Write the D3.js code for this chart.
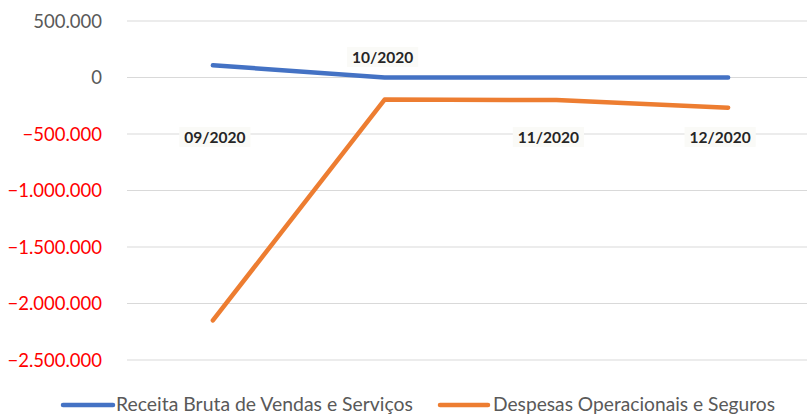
<!DOCTYPE html>
<html>
<head>
<meta charset="utf-8">
<script src="https://cdn.jsdelivr.net/npm/d3@7"></script>
<style>
  html, body { margin: 0; padding: 0; background: #fff; }
  svg { display: block; }
  text { font-family: Lato, "Open Sans", sans-serif; }
</style>
</head>
<body>
<svg id="chart" width="807" height="415"></svg>
<script>
// Monthly results (R$)
const categories = ["09/2020", "10/2020", "11/2020", "12/2020"];
const receita = [108000, 0, 0, 0];
const despesas = [-2150000, -195000, -200000, -267000];
const yTicks = [500000, 0, -500000, -1000000, -1500000, -2000000, -2500000];
const seriesNames = ["Receita Bruta de Vendas e Serviços", "Despesas Operacionais e Seguros"];

const series = [
  { name: seriesNames[0], values: receita, color: "#4472C4" },
  { name: seriesNames[1], values: despesas, color: "#ED7D31" }
];

const svg = d3.select("#chart");
const plot = { left: 127, right: 814, top: 21, bottom: 360 };

const x = d3.scaleBand().domain(categories).range([plot.left, plot.right]);
const cx = c => x(c) + x.bandwidth() / 2;
const y = d3.scaleLinear().domain([-2500000, 500000]).range([plot.bottom, plot.top]);

// pt-BR number format: dot as thousands separator
const fmt = d3.formatLocale({ decimal: ",", thousands: ".", grouping: [3], currency: ["R$", ""] }).format(",d");

// Gridlines
svg.append("g")
  .selectAll("line")
  .data(yTicks)
  .join("line")
  .attr("x1", plot.left).attr("x2", 807)
  .attr("y1", d => y(d)).attr("y2", d => y(d))
  .attr("stroke", "#d9d9d9").attr("stroke-width", 1);

// Y axis labels (negatives in red)
const yAxis = d3.axisLeft(y).tickValues(yTicks).tickFormat(d => fmt(d)).tickSize(0).tickPadding(0);
const yg = svg.append("g").attr("transform", "translate(102,0)").call(yAxis);
yg.select(".domain").remove();
yg.selectAll("text")
  .attr("font-family", "Lato, 'Open Sans', sans-serif")
  .attr("font-size", "18.5px")
  .attr("fill", d => d < 0 ? "#FF0000" : "#595959")
  .attr("dy", "0.35em");

// Lines
const line = d3.line().x((d, i) => cx(categories[i])).y(d => y(d));
svg.append("g")
  .selectAll("path")
  .data(series)
  .join("path")
  .attr("d", s => line(s.values))
  .attr("fill", "none")
  .attr("stroke", s => s.color)
  .attr("stroke-width", 4.5)
  .attr("stroke-linecap", "round")
  .attr("stroke-linejoin", "round");

// Category labels: the second sits above the zero line, the rest just below the -500.000 line
const catG = svg.append("g");
categories.forEach((c, i) => {
  const above = i === 1;
  const ly = above ? y(0) - 20 : y(-500000) + 3.5;
  const lx = cx(c) + (i === 0 ? 2 : i === 1 ? -2 : -8);
  const g = catG.append("g").attr("transform", `translate(${lx},${ly})`);
  const t = g.append("text")
    .attr("text-anchor", "middle")
    .attr("dy", "0.35em")
    .attr("font-size", "15.5px")
    .attr("font-weight", "bold")
    .attr("fill", "#262626")
    .text(c);
  const bb = t.node().getBBox();
  g.insert("rect", "text")
    .attr("x", bb.x - 5).attr("y", bb.y - 1)
    .attr("width", bb.width + 10).attr("height", bb.height + 2)
    .attr("fill", "#fafaf7");
});

// Legend
const legendItems = [
  { s: series[0], x0: 63, x1: 113, tx: 116, tw: 297 },
  { s: series[1], x0: 440, x1: 488, tx: 493, tw: 282 }
];
const lg = svg.append("g");
legendItems.forEach(it => {
  lg.append("line")
    .attr("x1", it.x0).attr("x2", it.x1)
    .attr("y1", 405).attr("y2", 405)
    .attr("stroke", it.s.color).attr("stroke-width", 4.5)
    .attr("stroke-linecap", "round");
  lg.append("text")
    .attr("x", it.tx).attr("y", 411)
    .attr("font-size", "18.5px")
    .attr("fill", "#595959")
    .attr("textLength", it.tw)
    .attr("lengthAdjust", "spacingAndGlyphs")
    .text(it.s.name);
});
</script>
</body>
</html>
